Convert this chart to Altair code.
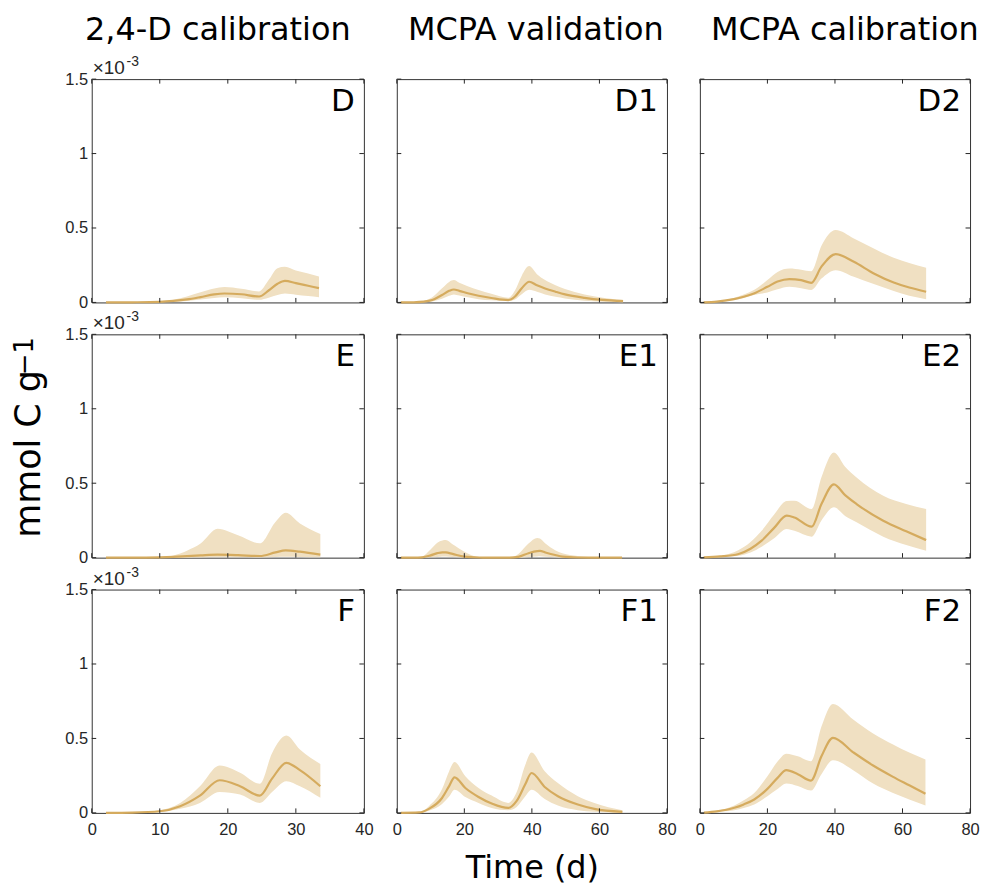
import altair as alt
import pandas as pd

# Simulated C pool (x10^-3 mmol C g-1): mean trajectory with its uncertainty band.

# 2,4-D calibration
D_t = [2.1, 6, 10, 12, 14, 16, 18, 19.5, 22, 24.6, 26, 27.3, 28.4, 30, 31.8, 33.4]
D_mean = [0, 0.001, 0.004, 0.010, 0.020, 0.036, 0.054, 0.060, 0.055, 0.040, 0.080, 0.125, 0.145, 0.130, 0.112, 0.096]
D_hi = [0, 0.002, 0.006, 0.018, 0.040, 0.068, 0.094, 0.104, 0.092, 0.074, 0.150, 0.230, 0.240, 0.215, 0.195, 0.174]
D_lo = [0, 0.0005, 0.002, 0.005, 0.010, 0.020, 0.030, 0.034, 0.028, 0.018, 0.032, 0.050, 0.060, 0.052, 0.043, 0.035]

E_t = [2.1, 6, 10, 12, 14, 16, 18.5, 21.5, 24.7, 27, 28.5, 30.6, 33.6]
E_mean = [0, 0, 0.002, 0.005, 0.010, 0.015, 0.020, 0.017, 0.011, 0.035, 0.049, 0.040, 0.020]
E_hi = [0, 0, 0.004, 0.015, 0.047, 0.095, 0.194, 0.150, 0.096, 0.240, 0.302, 0.230, 0.159]
E_lo = [0, 0, 0, 0, 0, 0.001, 0.002, 0.002, 0.001, 0.004, 0.006, 0.005, 0.002]

F_t = [2.1, 6, 10, 13, 15.9, 18.8, 21.8, 24.7, 26.5, 28.6, 30.6, 33.6]
F_mean = [0, 0.002, 0.011, 0.045, 0.116, 0.219, 0.179, 0.116, 0.230, 0.336, 0.287, 0.179]
F_hi = [0, 0.003, 0.018, 0.067, 0.179, 0.318, 0.269, 0.195, 0.400, 0.519, 0.425, 0.329]
F_lo = [0, 0.001, 0.006, 0.027, 0.067, 0.140, 0.123, 0.067, 0.140, 0.213, 0.179, 0.101]

# MCPA validation
D1_t = [1.2, 5, 8, 10.5, 13.4, 15.5, 16.9, 18.5, 21, 24.2, 28, 33, 35, 37, 39.2, 41.5, 43.9, 47, 49.8, 55.6, 61, 67]
D1_mean = [0, 0.001, 0.005, 0.016, 0.050, 0.078, 0.087, 0.078, 0.062, 0.045, 0.030, 0.016, 0.040, 0.095, 0.139, 0.115, 0.094, 0.072, 0.054, 0.031, 0.017, 0.009]
D1_hi = [0, 0.002, 0.010, 0.035, 0.095, 0.138, 0.150, 0.132, 0.108, 0.083, 0.058, 0.031, 0.080, 0.180, 0.244, 0.190, 0.150, 0.115, 0.090, 0.054, 0.032, 0.018]
D1_lo = [0, 0.0005, 0.002, 0.007, 0.025, 0.045, 0.054, 0.046, 0.034, 0.022, 0.014, 0.009, 0.020, 0.055, 0.085, 0.072, 0.054, 0.038, 0.027, 0.012, 0.005, 0.002]

E1_t = [1.2, 5, 7.5, 10, 12, 13.5, 14.5, 16.5, 19.9, 24.4, 30, 33.4, 36, 39, 41.6, 42.4, 44, 46.9, 49, 53.6, 60, 66.7]
E1_mean = [0, 0, 0.002, 0.015, 0.030, 0.036, 0.035, 0.025, 0.007, 0.001, 0, 0, 0.005, 0.030, 0.044, 0.045, 0.035, 0.018, 0.007, 0.001, 0, 0]
E1_hi = [0, 0, 0.008, 0.055, 0.100, 0.115, 0.118, 0.090, 0.042, 0.004, 0, 0.001, 0.025, 0.095, 0.132, 0.128, 0.095, 0.050, 0.030, 0.011, 0.001, 0]
E1_lo = [0, 0, 0, 0.002, 0.005, 0.008, 0.008, 0.005, 0.001, 0, 0, 0, 0, 0.004, 0.008, 0.009, 0.006, 0.002, 0, 0, 0, 0]

F1_t = [1.2, 6.6, 9.5, 13.4, 15.5, 17.1, 20.3, 24.2, 28.1, 33, 35.5, 38, 39.9, 43.8, 47.7, 53.6, 58.5, 66.8]
F1_mean = [0, 0.003, 0.027, 0.100, 0.180, 0.239, 0.167, 0.107, 0.063, 0.033, 0.080, 0.190, 0.268, 0.174, 0.112, 0.056, 0.027, 0.007]
F1_hi = [0, 0.005, 0.045, 0.160, 0.280, 0.342, 0.246, 0.167, 0.116, 0.067, 0.140, 0.320, 0.406, 0.279, 0.200, 0.112, 0.067, 0.018]
F1_lo = [0, 0.001, 0.015, 0.060, 0.110, 0.156, 0.107, 0.067, 0.033, 0.018, 0.040, 0.110, 0.156, 0.094, 0.049, 0.018, 0.008, 0.001]

# MCPA calibration
D2_t = [1.1, 5, 10.1, 13, 16, 20, 23, 26.5, 30, 33, 36, 40.2, 45.6, 51.5, 57.4, 62, 67]
D2_mean = [0.001, 0.006, 0.022, 0.038, 0.060, 0.105, 0.140, 0.157, 0.150, 0.132, 0.240, 0.325, 0.273, 0.195, 0.134, 0.100, 0.072]
D2_hi = [0.001, 0.008, 0.030, 0.053, 0.083, 0.150, 0.205, 0.228, 0.220, 0.210, 0.380, 0.486, 0.430, 0.363, 0.300, 0.265, 0.233]
D2_lo = [0.001, 0.004, 0.016, 0.030, 0.050, 0.067, 0.088, 0.105, 0.095, 0.083, 0.160, 0.217, 0.172, 0.123, 0.076, 0.045, 0.022]

E2_t = [1.1, 6, 11.5, 15, 18.3, 22, 25.7, 28, 33.1, 36, 39.7, 43, 46.4, 54.3, 61.1, 67]
E2_mean = [0.002, 0.008, 0.025, 0.060, 0.114, 0.200, 0.282, 0.270, 0.208, 0.360, 0.492, 0.420, 0.360, 0.248, 0.177, 0.118]
E2_hi = [0.002, 0.012, 0.051, 0.105, 0.181, 0.290, 0.380, 0.382, 0.326, 0.540, 0.706, 0.610, 0.539, 0.416, 0.360, 0.326]
E2_lo = [0.002, 0.005, 0.013, 0.035, 0.074, 0.130, 0.192, 0.180, 0.141, 0.250, 0.338, 0.280, 0.237, 0.141, 0.085, 0.047]

F2_t = [1.2, 5, 10.2, 13, 16.1, 20, 23, 25.6, 29, 32.9, 36, 39.4, 45.4, 51.3, 57.2, 62, 66.8]
F2_mean = [0.002, 0.010, 0.034, 0.057, 0.090, 0.161, 0.235, 0.287, 0.260, 0.217, 0.380, 0.504, 0.407, 0.318, 0.242, 0.185, 0.128]
F2_hi = [0.002, 0.014, 0.049, 0.085, 0.134, 0.246, 0.345, 0.398, 0.380, 0.347, 0.580, 0.732, 0.627, 0.533, 0.459, 0.405, 0.358]
F2_lo = [0.002, 0.007, 0.018, 0.033, 0.056, 0.112, 0.160, 0.197, 0.180, 0.150, 0.260, 0.354, 0.287, 0.197, 0.134, 0.090, 0.049]

col_titles = ["2,4-D calibration", "MCPA validation", "MCPA calibration"]
panel_names = [["D", "D1", "D2"], ["E", "E1", "E2"], ["F", "F1", "F2"]]
x_max = [40, 80, 80]
x_ticks = [[0, 10, 20, 30, 40], [0, 20, 40, 60, 80], [0, 20, 40, 60, 80]]
y_ticks = [0, 0.5, 1, 1.5]
y_unit = "mmol C g"
y_unit_power = "−1"

series = {
    "D": (D_t, D_mean, D_lo, D_hi), "E": (E_t, E_mean, E_lo, E_hi), "F": (F_t, F_mean, F_lo, F_hi),
    "D1": (D1_t, D1_mean, D1_lo, D1_hi), "E1": (E1_t, E1_mean, E1_lo, E1_hi), "F1": (F1_t, F1_mean, F1_lo, F1_hi),
    "D2": (D2_t, D2_mean, D2_lo, D2_hi), "E2": (E2_t, E2_mean, E2_lo, E2_hi), "F2": (F2_t, F2_mean, F2_lo, F2_hi),
}

widths = [273, 271, 271]
H = 224
TICK = 4.5
LINE = "#D5AB5E"
BAND = "#F0E0C2"
AXC = "#262626"
TITLE_FONT = "DejaVu Sans"
LABEL_FONT = "Liberation Sans"
title_dx = [-10, 4, 10]


def text_layer(s, x, y, size, font=TITLE_FONT, color="black", align="left", angle=0):
    kw = dict(align=align, baseline="alphabetic", fontSize=size, font=font, color=color)
    if angle:
        kw["angle"] = angle
    return alt.Chart(pd.DataFrame({"s": [s]})).mark_text(**kw).encode(
        x=alt.value(x), y=alt.value(y), text="s:N")


def panel(r, c):
    name = panel_names[r][c]
    t, m, lo, hi = series[name]
    df = pd.DataFrame({"t": t, "mean": m, "lo": lo, "hi": hi})
    w = widths[c]
    xs = alt.Scale(domain=[0, x_max[c]], nice=False, zero=False)
    ys = alt.Scale(domain=[0, 1.5], nice=False)

    if r == 2:
        xkw = dict(values=x_ticks[c], ticks=False, domain=False, grid=False,
                   labelFlush=False, labelFontSize=16.5, labelFont=LABEL_FONT,
                   labelColor=AXC, labelPadding=9)
        if c == 1:
            xkw.update(title="Time (d)", titleFontSize=32, titleFont=TITLE_FONT,
                       titleFontWeight="normal", titleColor="black", titlePadding=14)
        else:
            xkw.update(title=None)
        xaxis = alt.Axis(**xkw)
    else:
        xaxis = None

    if c == 0:
        yaxis = alt.Axis(values=y_ticks, ticks=False, domain=False, grid=False,
                         labelFlush=False, labelFontSize=16.5, labelFont=LABEL_FONT,
                         labelColor=AXC, labelPadding=4, title=None,
                         labelExpr="format(datum.value, '~g')")
    else:
        yaxis = None

    base = alt.Chart(df)
    band = base.mark_area(color=BAND, opacity=1, interpolate="monotone").encode(
        x=alt.X("t:Q", scale=xs, axis=xaxis),
        y=alt.Y("lo:Q", scale=ys, axis=yaxis),
        y2="hi:Q",
    )
    line = base.mark_line(color=LINE, strokeWidth=2.2, interpolate="monotone").encode(
        x=alt.X("t:Q", scale=xs, axis=xaxis),
        y=alt.Y("mean:Q", scale=ys, axis=yaxis),
    )

    xt = alt.Chart(pd.DataFrame({"v": x_ticks[c]}))
    yt = alt.Chart(pd.DataFrame({"v": y_ticks}))
    tick_bottom = xt.mark_rule(color=AXC, strokeWidth=1).encode(
        x=alt.X("v:Q", scale=xs, axis=xaxis), y=alt.value(H), y2=alt.value(H - TICK))
    tick_top = xt.mark_rule(color=AXC, strokeWidth=1).encode(
        x=alt.X("v:Q", scale=xs, axis=xaxis), y=alt.value(0), y2=alt.value(TICK))
    tick_left = yt.mark_rule(color=AXC, strokeWidth=1).encode(
        y=alt.Y("v:Q", scale=ys, axis=yaxis), x=alt.value(0), x2=alt.value(TICK))
    tick_right = yt.mark_rule(color=AXC, strokeWidth=1).encode(
        y=alt.Y("v:Q", scale=ys, axis=yaxis), x=alt.value(w), x2=alt.value(w - TICK))

    layers = [band, line, tick_bottom, tick_top, tick_left, tick_right,
              text_layer(name, w - 9, 32, 31, align="right")]

    if c == 0:
        # scale factor above the y axis
        layers += [text_layer("×10", 1, -5, 19, font=LABEL_FONT, color=AXC),
                   text_layer("-3", 35, -13, 14, font=LABEL_FONT, color=AXC)]
        if r == 1:
            # y-axis unit, written upward with a raised exponent
            layers += [text_layer(y_unit, -52, 204, 35, angle=270),
                       text_layer(y_unit_power, -59, 41, 26, angle=270)]

    if r == 0:
        layers.append(text_layer(col_titles[c], w / 2 + title_dx[c], -39, 32, align="center"))

    return alt.layer(*layers).properties(width=w, height=H)


panels = [panel(r, c) for r in range(3) for c in range(3)]

chart = alt.concat(
    *panels, columns=3, spacing=alt.RowColnumber(row=32, column=33), bounds="flush"
).properties(
    padding={"left": 11, "top": 12, "right": 5, "bottom": 5}
).configure_view(stroke="#333333", strokeWidth=1)

chart.save("out.html", embed_options={"renderer": "svg", "actions": False})
